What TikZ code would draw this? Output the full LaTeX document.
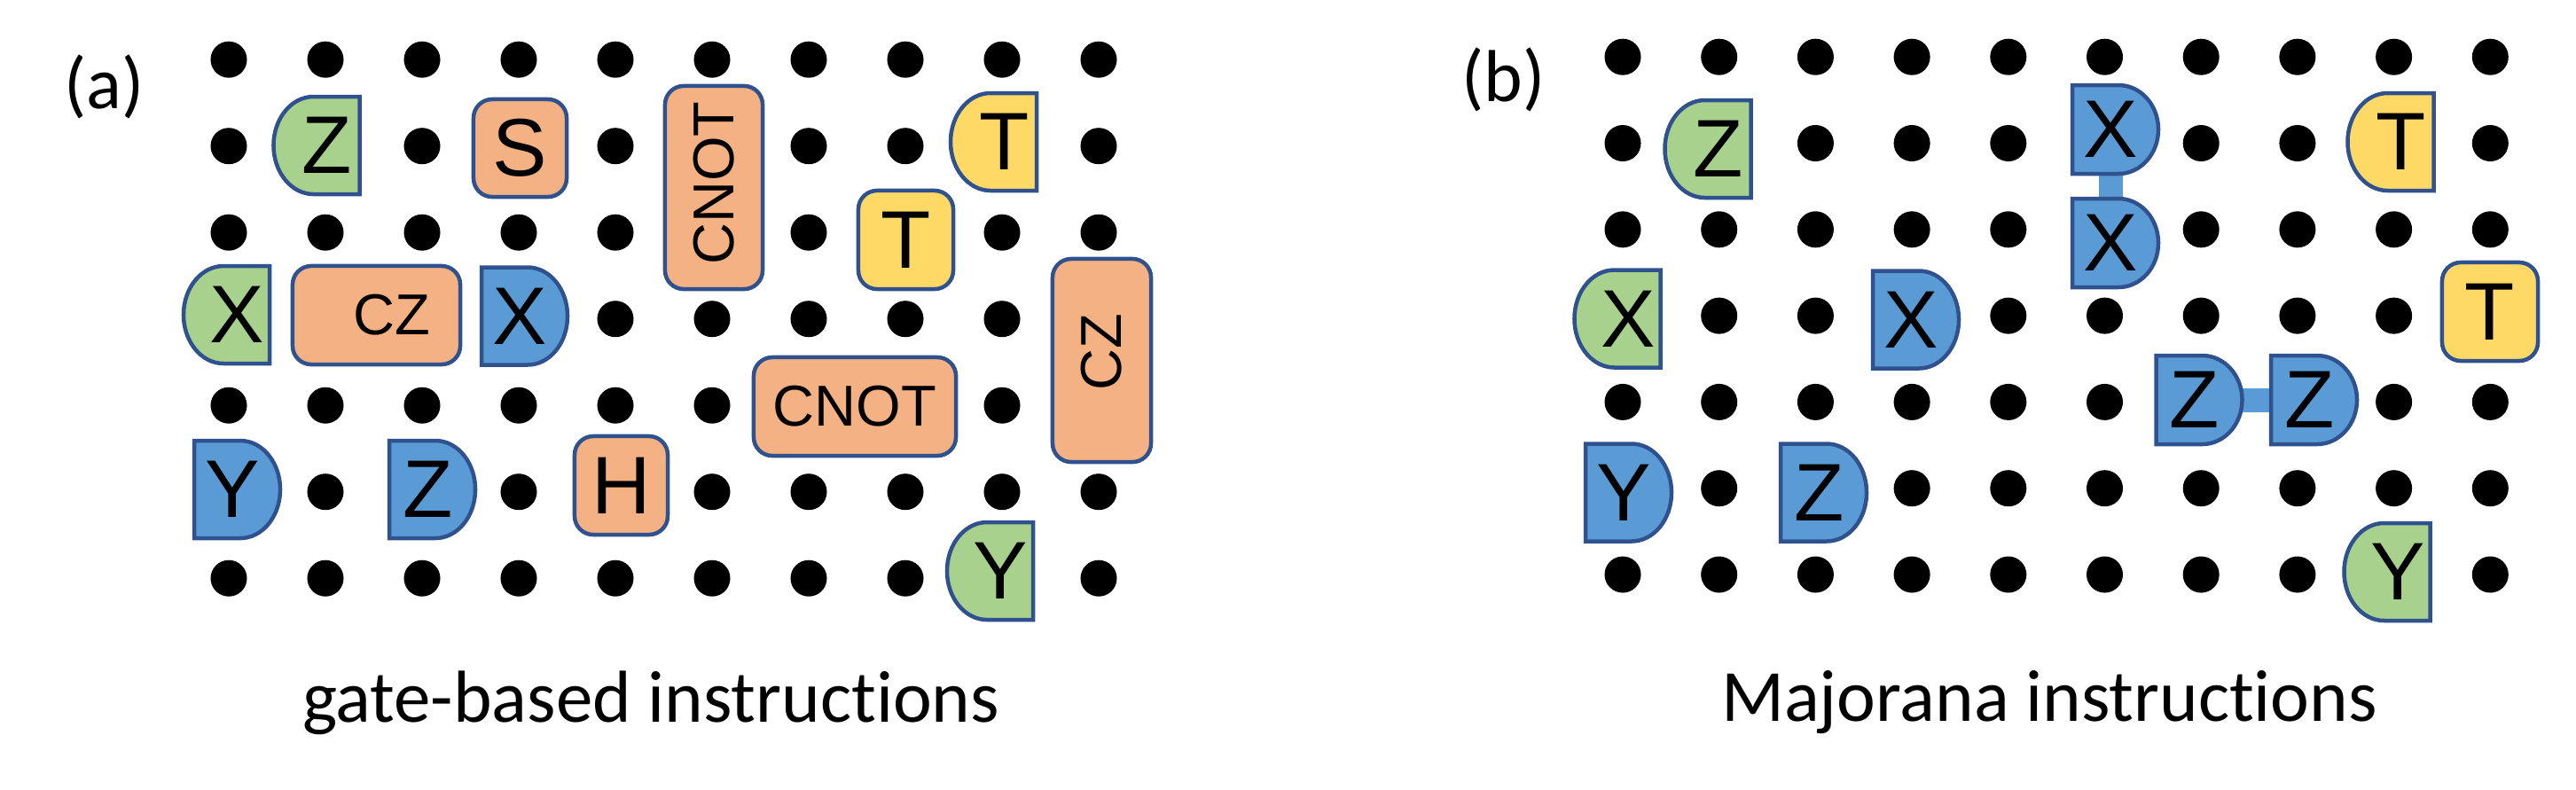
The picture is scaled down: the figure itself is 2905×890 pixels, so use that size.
\documentclass[tikz,border=0pt]{standalone}
\usepackage{fontspec}
\newfontfamily\arialf{Liberation Sans}
\newfontfamily\calf[Ligatures=NoCommon]{Carlito}
\definecolor{gblue}{HTML}{5B9BD5}
\definecolor{ggreen}{HTML}{A9D18E}
\definecolor{gorange}{HTML}{F4B183}
\definecolor{gyellow}{HTML}{FFD966}
\definecolor{gline}{HTML}{2F528F}
\usetikzlibrary{backgrounds}

% half-round gates: [half height] name, x, y, fill, letter (pixel units)
\newcommand{\lgate}[6][55]{%
  \draw[outl, fill=#5] (#3+48.5,#4-#1) -- (#3-3.5,#4-#1)
    arc[start angle=90, end angle=270, x radius=0.45cm, y radius=#1*0.01cm]
    -- (#3+48.5,#4+#1) -- cycle;
  \node[glyph] (#2) at (#3+12,#4) {#6};}
\newcommand{\rgate}[6][55]{%
  \draw[outl, fill=#5] (#3-48.5,#4-#1) -- (#3+3.5,#4-#1)
    arc[start angle=90, end angle=-90, x radius=0.45cm, y radius=#1*0.01cm]
    -- (#3-48.5,#4+#1) -- cycle;
  \node[glyph] (#2) at (#3-5,#4) {#6};}

\begin{document}
\begin{tikzpicture}[x=0.01cm, y=-0.01cm,
      outl/.style={draw=gline, line width=0.045cm},
      gbox/.style={outl, fill=gorange, rounded corners=0.21cm, inner sep=0pt,
                   font=\arialf\fontsize{26.2}{30}\selectfont},
      glyph/.style={inner sep=0pt, font=\arialf\fontsize{26.2}{30}\selectfont},
      small/.style={inner sep=0pt, font=\arialf\fontsize{18.5}{22}\selectfont},
      capt/.style={inner sep=0pt, font=\calf\fontsize{23.6}{28}\selectfont},
      link/.style={gblue, line width=0.27cm}
    ]
    \useasboundingbox (0,0) rectangle (2905,890);
    \foreach \c in {0,...,9}
      \foreach \r in {0,...,6} {
        \fill (258+109*\c,67.2+97.5*\r) circle[radius=0.205cm];
        \fill (1830+108.7*\c,64.2+97.3*\r) circle[radius=0.205cm];
      }

    % (a) gate-based
    \node[capt, anchor=base west] (laba) at (72,122) {(a)};
    \lgate{za}{357}{164}{ggreen}{Z}
    \node[gbox, minimum width=1.05cm, minimum height=1.10cm] (sa) at (586.5,167) {S};
    \node[gbox, minimum width=1.10cm, minimum height=2.29cm] (cna) at (805,211.5) {};
    \node[small, rotate=90] (cnat) at (805,206.5) {CNOT};
    \lgate{ta}{1120.5}{160}{gyellow}{T}
    \node[gbox, fill=gyellow, minimum width=1.07cm, minimum height=1.11cm] (tb) at (1021.5,270.5) {T};
    \lgate{xa}{255.5}{355}{ggreen}{X}
    \node[gbox, minimum width=1.89cm, minimum height=1.11cm] (cza) at (424.5,355.5) {};
    \node[small] (czat) at (442,355) {CZ};
    \rgate{xb}{591.5}{356.5}{gblue}{X}
    \node[gbox, minimum width=1.11cm, minimum height=2.29cm] (czb) at (1242.5,406.5) {};
    \node[small, rotate=90] (czbt) at (1242.5,397) {CZ};
    \node[gbox, font=\arialf\fontsize{18.5}{22}\selectfont,
          minimum width=2.28cm, minimum height=1.11cm] (cnb) at (964,458.5) {CNOT};
    \rgate{ya}{267.5}{552}{gblue}{Y}
    \rgate{zb}{487.5}{552}{gblue}{Z}
    \node[gbox, minimum width=1.05cm, minimum height=1.11cm] (ha) at (700.5,547.5) {H};
    \lgate{yb}{1116.5}{644}{ggreen}{Y}
    \node[capt, anchor=base] (capa) at (734,814) {gate-based instructions};

    % (b) Majorana
    \node[capt, anchor=base west] (labb) at (1648,114) {(b)};
    \lgate{zc}{1926}{168}{ggreen}{Z}
    \rgate[50]{xc}{2385.5}{146}{gblue}{X}
    \rgate[50]{xd}{2385.5}{274}{gblue}{X}
    \lgate{tc}{2696}{160}{gyellow}{T}
    \lgate{xe}{1824}{359.5}{ggreen}{X}
    \rgate{xf}{2160.5}{360.5}{gblue}{X}
    \node[gbox, fill=gyellow, minimum width=1.08cm, minimum height=1.11cm] (td) at (2808,351.5) {T};
    \rgate[50]{zd}{2480}{451}{gblue}{Z}
    \rgate[50]{ze}{2609.5}{451}{gblue}{Z}
    \rgate{yc}{1836.5}{555.5}{gblue}{Y}
    \rgate{zf}{2056.5}{555.5}{gblue}{Z}
    \lgate{yd}{2692}{645}{ggreen}{Y}
    \node[capt, anchor=base] (capb) at (2311,813) {Majorana instructions};
    \begin{scope}[on background layer]
      \draw[link] (xc) -- (xd);
      \draw[link] (zd) -- (ze);
    \end{scope}
  \end{tikzpicture}
\end{document}
